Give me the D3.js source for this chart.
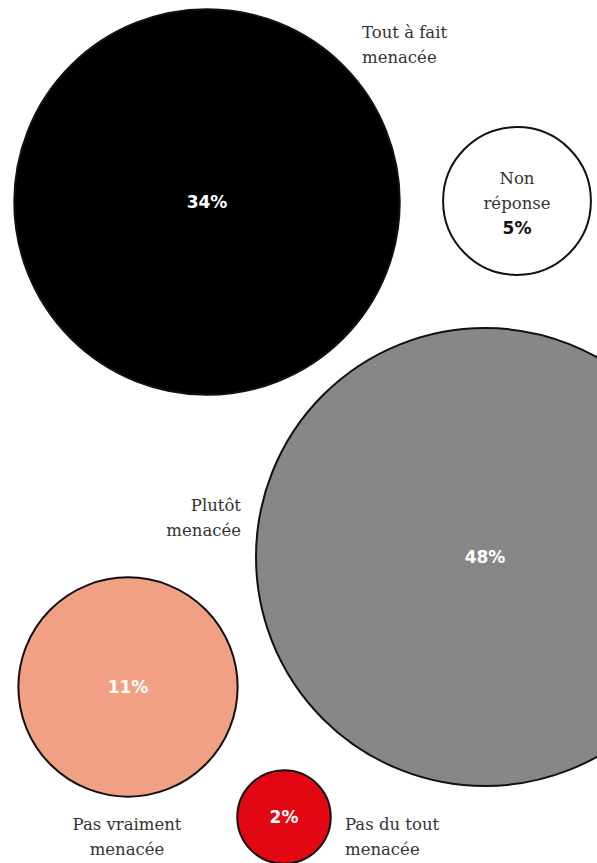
<!DOCTYPE html>
<html>
<head>
<meta charset="utf-8">
<script src="https://cdn.jsdelivr.net/npm/d3@7"></script>
<style>
  html, body { margin: 0; padding: 0; background: #fff; }
  svg { display: block; }
</style>
</head>
<body>
<svg id="chart" width="597" height="863"></svg>
<script>
// ---- data ----
const categories = ["Tout à fait menacée", "Non réponse", "Plutôt menacée", "Pas vraiment menacée", "Pas du tout menacée"];
const values = [34, 5, 48, 11, 2];
const valueLabels = ["34%", "5%", "48%", "11%", "2%"];
const labelLines = [["Tout à fait", "menacée"], ["Non", "réponse"], ["Plutôt", "menacée"], ["Pas vraiment", "menacée"], ["Pas du tout", "menacée"]];
const colors = ["#000000", "#ffffff", "#878787", "#f2a083", "#e30613"];

// ---- layout (positions, not data) ----
const centers = [[207, 202], [517, 201], [485, 557], [128, 687], [284, 817]];
const labelPos = [
  {x: 362, y: 38, anchor: "start"},
  {x: 517, y: 184, anchor: "middle"},
  {x: 241, y: 511, anchor: "end"},
  {x: 127, y: 830, anchor: "middle"},
  {x: 345, y: 830, anchor: "start"}
];

const svg = d3.select("#chart");
const r = d3.scaleSqrt().domain([0, 48]).range([0, 229]);

const data = categories.map((c, i) => ({
  cat: c, v: values[i], lab: valueLabels[i], lines: labelLines[i],
  color: colors[i], cx: centers[i][0], cy: centers[i][1], lp: labelPos[i]
}));

const g = svg.append("g");
g.selectAll("circle").data(data).join("circle")
  .attr("cx", d => d.cx).attr("cy", d => d.cy)
  .attr("r", d => r(d.v))
  .attr("fill", d => d.color)
  .attr("stroke", "#111")
  .attr("stroke-width", 2);

// category labels
const lh = 24.5;
data.forEach((d, i) => {
  const t = svg.append("text")
    .attr("x", d.lp.x).attr("y", d.lp.y)
    .attr("text-anchor", d.lp.anchor)
    .attr("font-family", "'DejaVu Serif', serif")
    .attr("font-size", 16.5)
    .attr("fill", "#333");
  d.lines.forEach((ln, j) => {
    t.append("tspan").attr("x", d.lp.x).attr("dy", j === 0 ? 0 : lh).text(ln);
  });
});

// value labels
data.forEach((d, i) => {
  const inside = i === 1;
  svg.append("text")
    .attr("x", d.cx)
    .attr("y", inside ? d.lp.y + 2 * lh + 1 : d.cy + 6)
    .attr("text-anchor", "middle")
    .attr("font-family", "'DejaVu Sans', sans-serif")
    .attr("font-weight", "bold")
    .attr("font-size", 17)
    .attr("fill", inside ? "#111" : "#fff")
    .text(d.lab);
});
</script>
</body>
</html>
